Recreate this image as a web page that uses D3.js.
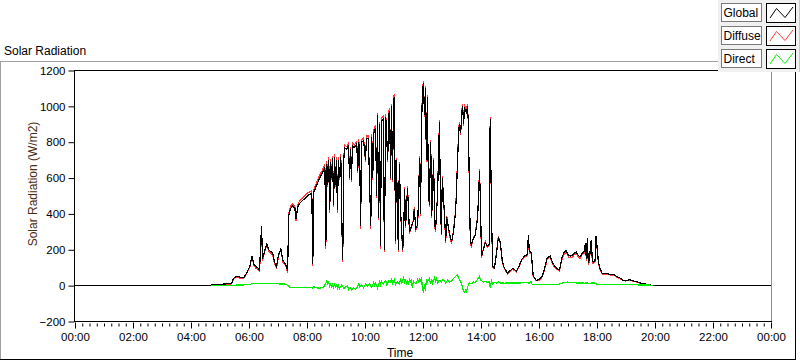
<!DOCTYPE html>
<html>
<head>
<meta charset="utf-8">
<script src="https://cdn.jsdelivr.net/npm/d3@7"></script>
<style>
  body { margin: 0; background: #fff; }
  svg text { font-family: "Liberation Sans", Arial, sans-serif; }
</style>
</head>
<body>
<div class="chart"></div>
<script>
var w = 800;
var h = 361;

// minutes since midnight for the global / diffuse samples
var globalMinutes = [0,281,283,304,324,328,333,341,349,355,362,366,370,374,378,382,384,386,388,393,397,401,405,409,413,417,421,426,430,436,440,442,446,450,455,457,461,465,471,477,483,490,492,494,500,506,512,517,519,521,523,525,527,529,531,533,535,537,539,541,543,545,547,550,552,554,556,558,562,566,568,570,572,574,578,583,585,587,589,591,593,597,601,603,607,612,614,616,618,622,624,626,628,630,632,634,638,640,643,647,649,651,653,655,657,659,661,663,665,669,671,674,678,680,682,684,688,692,696,700,702,705,709,713,715,717,719,721,723,725,727,729,731,733,736,738,742,744,746,750,752,754,756,758,760,764,767,769,773,775,779,783,787,789,791,793,795,798,800,802,804,806,808,810,812,814,816,818,820,824,828,833,835,837,839,841,845,849,853,857,859,862,864,868,872,876,880,884,888,895,899,905,909,913,919,924,930,936,938,940,944,948,954,961,967,973,977,983,988,992,998,1002,1008,1012,1016,1021,1025,1029,1033,1037,1041,1045,1050,1054,1056,1058,1060,1062,1064,1068,1070,1072,1076,1078,1080,1083,1087,1091,1097,1103,1109,1116,1122,1128,1134,1140,1147,1153,1161,1169,1178,1188,1196,1440];

var globalW = [0,0,5,8,12,40,52,48,44,70,110,165,120,105,100,88,230,330,150,200,232,200,190,180,130,108,170,205,140,118,80,390,430,445,430,370,440,460,475,490,505,515,120,520,560,600,630,660,220,680,560,700,420,690,600,710,450,720,560,700,420,700,600,720,350,145,700,770,760,780,600,760,590,780,770,790,640,800,740,330,800,810,700,820,820,330,830,600,850,880,500,950,380,900,220,920,930,200,940,700,960,970,600,1000,590,1040,1050,250,700,200,680,400,200,300,540,330,545,300,330,360,430,320,340,710,400,900,1080,1130,950,1100,700,1050,600,450,800,390,700,350,310,500,700,910,500,290,600,420,250,380,320,290,245,300,400,500,660,800,900,850,960,1000,900,990,980,960,1000,900,530,240,230,260,280,380,500,640,450,165,200,240,220,230,930,370,110,100,180,270,240,140,100,70,80,95,90,80,110,145,165,175,285,190,185,55,30,35,55,110,155,165,130,110,95,85,160,185,195,170,165,168,180,188,170,160,185,190,240,150,265,130,140,255,160,130,140,275,220,130,90,67,67,66,62,60,48,42,30,28,33,28,22,15,11,5,0,0];

var diffuseW = [null,0,3,6,10,36,50,42,40,66,104,160,112,98,94,80,222,320,140,195,225,192,182,172,122,100,165,200,132,110,72,400,445,458,440,360,452,475,490,506,520,530,110,535,575,615,645,675,205,695,548,715,405,705,590,725,440,735,548,715,408,715,590,735,340,130,712,785,775,795,590,772,578,795,785,805,628,815,752,315,815,825,690,835,835,315,845,590,868,895,488,965,365,915,205,935,945,185,955,688,975,985,588,1015,578,1055,1068,235,712,188,690,390,188,292,552,320,556,290,322,368,440,310,330,722,388,912,1092,1142,940,1112,688,1062,590,440,812,378,712,340,298,510,712,922,490,280,612,410,238,390,310,280,235,308,410,512,672,812,912,840,975,1015,890,1005,995,975,1015,890,520,228,220,265,285,390,510,652,440,155,205,245,212,222,940,360,100,95,185,278,232,132,95,65,76,90,86,75,105,140,160,168,270,182,178,50,28,32,50,104,148,158,122,104,90,80,152,176,186,160,155,158,172,180,160,150,176,182,225,140,250,122,132,240,150,122,132,260,210,122,85,63,63,62,58,56,45,39,28,26,30,26,20,13,9,4,0,null];

var directMinutes = [281,320,362,366,374,382,390,399,407,415,424,432,438,444,455,465,475,486,492,494,498,506,514,519,521,523,525,527,529,531,533,535,537,539,541,543,545,547,552,556,560,564,566,570,572,576,581,585,587,589,593,597,601,605,609,614,618,620,622,626,630,632,634,638,643,645,649,653,655,657,661,663,667,671,674,676,680,682,684,686,688,690,692,694,696,698,700,705,709,711,713,715,717,719,721,723,725,727,729,733,736,738,740,744,746,748,750,754,758,762,767,771,775,779,783,787,791,793,795,798,800,802,804,806,808,810,812,814,816,820,824,828,833,837,839,841,845,849,853,857,859,862,864,868,872,876,880,888,899,909,919,930,940,944,946,961,981,996,1002,1012,1019,1025,1033,1039,1047,1054,1060,1064,1068,1076,1080,1085,1105,1126,1147,1167,1188,1196];

var directW = [0,2,5,12,10,14,10,13,11,12,9,10,5,-8,-10,-12,-11,-12,-13,-5,-12,-14,-8,12,25,8,20,-5,10,-15,5,-10,12,-8,2,-12,10,-20,5,-15,-8,0,-22,-10,-25,-12,-20,-6,15,-8,5,-12,8,-5,12,-10,20,0,15,-15,20,5,25,10,30,5,25,18,40,10,35,5,20,8,35,15,45,20,30,10,22,5,40,20,30,-10,25,10,35,15,40,20,45,-25,-35,10,-30,30,20,40,10,35,15,45,25,40,15,30,20,35,15,30,20,25,40,50,60,45,35,20,10,-15,-30,-38,-25,-35,-10,5,15,10,20,18,35,52,30,28,20,25,18,22,-10,25,10,18,15,20,15,14,15,15,15,16,15,22,6,5,5,6,8,18,20,16,18,14,15,14,15,10,15,14,8,6,6,5,5,4,4,0];

var yTicks = [-200,0,200,400,600,800,1000,1200];
var xTicksMajor = d3.range(0, 1441, 120);
var xTicksMinor = d3.range(0, 1441, 15);
var seriesNames = ["Global", "Diffuse", "Direct"];
var seriesColors = ["#000000", "#ff3b3b", "#00ee00"];

var svg = d3.select(".chart").append("svg")
  .attr("width", w)
  .attr("height", h)
  .style("display", "block");

// frame of the graph control
svg.append("line").attr("x1", 0).attr("x2", 718).attr("y1", 61.5).attr("y2", 61.5).attr("stroke", "#a0a0a0");
svg.append("line").attr("x1", 0.5).attr("x2", 0.5).attr("y1", 61).attr("y2", 360).attr("stroke", "#a0a0a0");
svg.append("line").attr("x1", 795.5).attr("x2", 795.5).attr("y1", 72).attr("y2", 360).attr("stroke", "#000");
svg.append("line").attr("x1", 0).attr("x2", 796).attr("y1", 359.5).attr("y2", 359.5).attr("stroke", "#000");

svg.append("text")
  .attr("x", 4).attr("y", 55)
  .style("font-size", "12px")
  .attr("fill", "#000")
  .text("Solar Radiation");

var x = d3.scaleLinear().domain([0, 1440]).range([75, 771]);
var y = d3.scaleLinear().domain([-200, 1200]).range([321.5, 70.5]);

function fmtTime(m) {
  var hh = Math.floor(m / 60) % 24;
  var mm = m % 60;
  return d3.format("02d")(hh) + ":" + d3.format("02d")(mm);
}

// y axis
svg.append("g")
  .attr("transform", "translate(74.5,0)")
  .call(d3.axisLeft(y).tickValues(yTicks).tickSize(6).tickPadding(3).tickFormat(d3.format("d")))
  .call(g => {
    g.select(".domain").remove();
    g.selectAll("line").attr("stroke", "#000");
    g.selectAll("text").style("font-size", "11.5px").attr("fill", "#000").style("font-family", "Liberation Sans, Arial, sans-serif");
  });

// x axis minor ticks
svg.append("g")
  .attr("transform", "translate(0,322.5)")
  .call(d3.axisBottom(x).tickValues(xTicksMinor).tickSize(4).tickFormat(""))
  .call(g => {
    g.select(".domain").remove();
    g.selectAll("line").attr("stroke", "#000").attr("y1", 1);
  });

// x axis major ticks
svg.append("g")
  .attr("transform", "translate(0,322.5)")
  .call(d3.axisBottom(x).tickValues(xTicksMajor).tickSize(6).tickPadding(4).tickFormat(fmtTime))
  .call(g => {
    g.select(".domain").remove();
    g.selectAll("line").attr("stroke", "#000");
    g.selectAll("text").style("font-size", "11.5px").attr("fill", "#000").style("font-family", "Liberation Sans, Arial, sans-serif");
  });

svg.append("text")
  .attr("x", 400).attr("y", 357)
  .attr("text-anchor", "middle")
  .style("font-size", "12px")
  .attr("fill", "#000")
  .text("Time");

svg.append("text")
  .attr("transform", "translate(37,184) rotate(-90)")
  .attr("text-anchor", "middle")
  .style("font-size", "12px")
  .attr("fill", "#4a2c10")
  .text("Solar Radiation (W/m2)");

// plot lines
var plot = svg.append("g").attr("class", "plot");

var line = d3.line()
  .defined(d => d.v !== null)
  .x(d => x(d.m))
  .y(d => y(d.v));

var diffuseData = globalMinutes.map((m, i) => ({ m: m, v: diffuseW[i] }));
var globalData = globalMinutes.map((m, i) => ({ m: m, v: globalW[i] }));
var directData = directMinutes.map((m, i) => ({ m: m, v: directW[i] }));

plot.append("path").datum(diffuseData)
  .attr("fill", "none").attr("stroke", seriesColors[1]).attr("stroke-width", 1.2)
  .attr("shape-rendering", "crispEdges")
  .attr("d", line);
plot.append("path").datum(globalData)
  .attr("fill", "none").attr("stroke", seriesColors[0]).attr("stroke-width", 1.2)
  .attr("shape-rendering", "crispEdges")
  .attr("d", line);
plot.append("path").datum(directData)
  .attr("fill", "none").attr("stroke", seriesColors[2]).attr("stroke-width", 1.2)
  .attr("shape-rendering", "crispEdges")
  .attr("d", line);

// plot box
svg.append("line").attr("x1", 74.5).attr("x2", 772).attr("y1", 70.5).attr("y2", 70.5).attr("stroke", "#000");
svg.append("line").attr("x1", 74.5).attr("x2", 74.5).attr("y1", 70).attr("y2", 322).attr("stroke", "#000");
svg.append("line").attr("x1", 771.5).attr("x2", 771.5).attr("y1", 71).attr("y2", 322).attr("stroke", "#8c8c8c");
svg.append("line").attr("x1", 74.5).attr("x2", 772).attr("y1", 321.5).attr("y2", 321.5).attr("stroke", "#000");

// legend
var legend = svg.append("g").attr("class", "legend");
legend.append("rect")
  .attr("x", 718).attr("y", 0).attr("width", 82).attr("height", 72)
  .attr("fill", "#f0f0f0");
legend.append("line").attr("x1", 799.5).attr("x2", 799.5).attr("y1", 0).attr("y2", 72).attr("stroke", "#c8c8c8");

var item = legend.selectAll(".legend-item")
  .data(seriesNames)
  .enter().append("g")
  .attr("class", "legend-item")
  .attr("transform", (d, i) => "translate(0," + i * 23 + ")");

item.append("rect")
  .attr("x", 721.5).attr("y", 3.5).attr("width", 40).attr("height", 18)
  .attr("fill", "#fff").attr("stroke", "#7a7a7a");
item.append("text")
  .attr("x", 723.5).attr("y", 17)
  .style("font-size", "12px")
  .attr("fill", "#000")
  .text(d => d);

item.append("rect")
  .attr("x", 766.5).attr("y", 3.5).attr("width", 29).attr("height", 19)
  .attr("fill", "#fff").attr("stroke", "#000");
item.append("polyline")
  .attr("points", "770,18 776.5,8.5 785,17.5 793,7")
  .attr("fill", "none")
  .attr("stroke", (d, i) => seriesColors[i])
  .attr("stroke-width", 1);
</script>
</body>
</html>
